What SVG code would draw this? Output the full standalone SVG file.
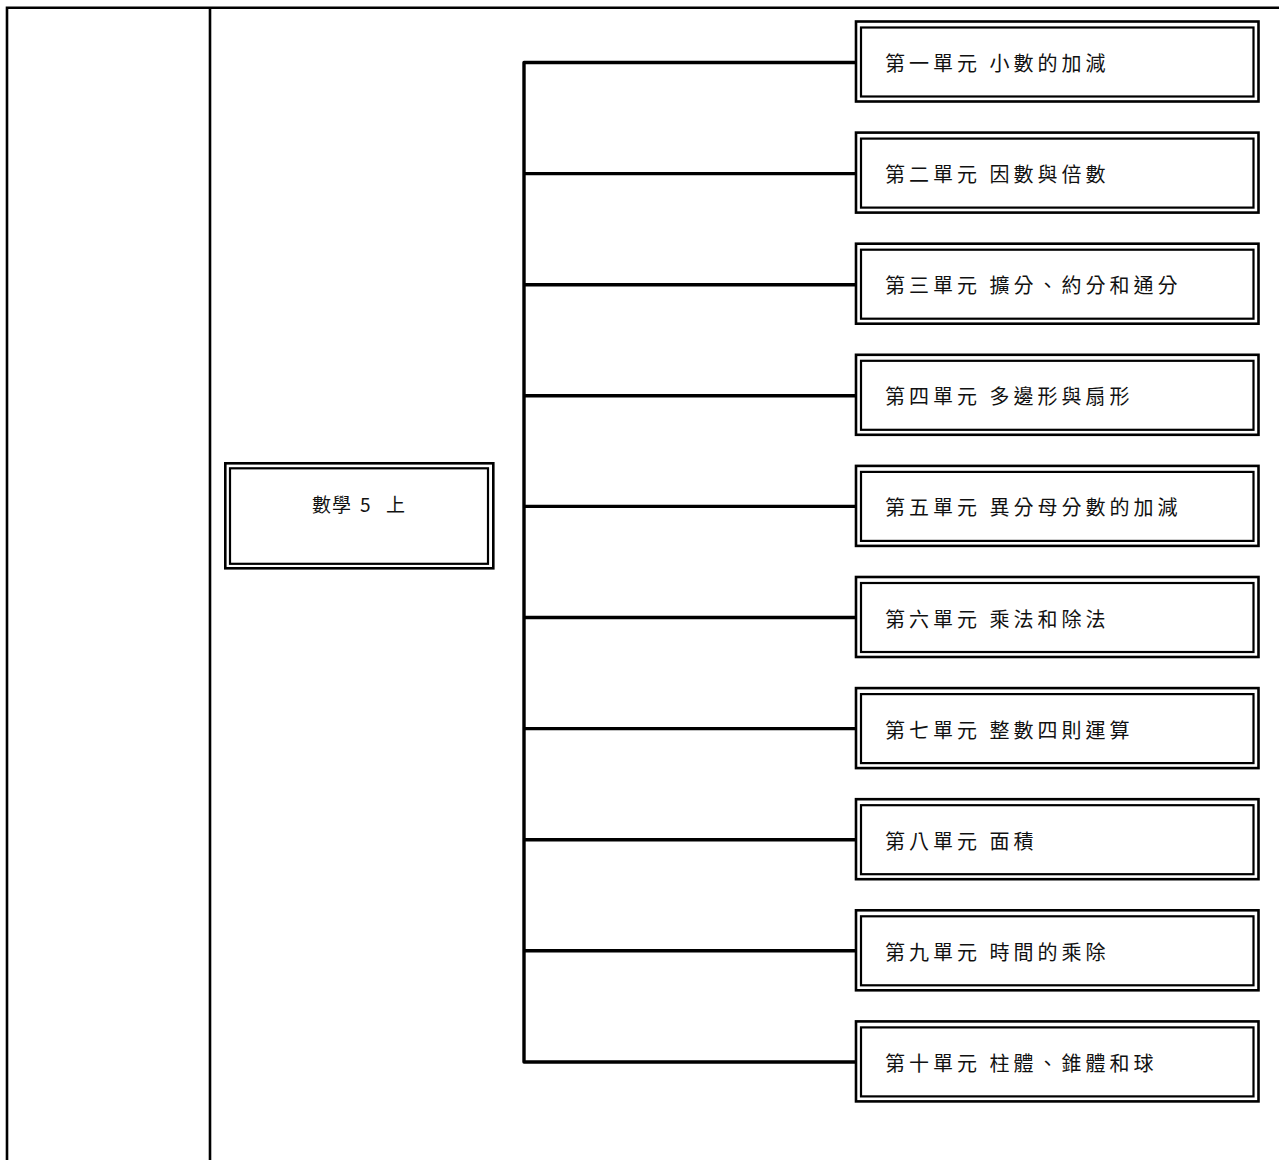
<svg xmlns="http://www.w3.org/2000/svg" width="1279" height="1160" viewBox="0 0 1279 1160">
<style>
.frame{fill:none;stroke:#000;stroke-width:2.6}
.out{fill:#fff;stroke:#000;stroke-width:2.6}
.in{fill:none;stroke:#000;stroke-width:2.2}
.conn{fill:none;stroke:#000;stroke-width:3.4;stroke-linejoin:round}
.t{font-family:"Noto Sans CJK TC","Noto Sans CJK SC",sans-serif;font-size:20px;letter-spacing:4px;fill:#111}
.m{font-family:"Noto Sans CJK TC","Noto Sans CJK SC",sans-serif;font-size:19px;fill:#111}
</style>
<rect width="1279" height="1160" fill="#fff"/>
<g id="table">
<path class="frame" d="M7,1160 V7.7 H1279 M210,7.7 V1160"/>
</g>
<g id="connectors">
<path class="conn" d="M855,62.5 H524 V1062 H855"/>
<path class="conn" d="M524,173.6 H855 M524,284.7 H855 M524,395.8 H855 M524,506.4 H855 M524,617.5 H855 M524,728.6 H855 M524,839.7 H855 M524,950.8 H855"/>
</g>
<g id="root">
<rect class="out" x="225.3" y="463.3" width="268" height="105"/>
<rect class="in" x="230" y="468.3" width="258" height="95.5"/>
<text class="m" x="312 332 352 360 375 386" y="512">數學 5 上</text>
</g>
<g id="u1"><rect class="out" x="856" y="21.5" width="402.5" height="80"/><rect class="in" x="861" y="27.5" width="392.5" height="69"/><text class="t" x="885" y="71">第一單元 小數的加減</text></g>
<g id="u2"><rect class="out" x="856" y="132.6" width="402.5" height="80"/><rect class="in" x="861" y="138.6" width="392.5" height="69"/><text class="t" x="885" y="182.1">第二單元 因數與倍數</text></g>
<g id="u3"><rect class="out" x="856" y="243.7" width="402.5" height="80"/><rect class="in" x="861" y="249.7" width="392.5" height="69"/><text class="t" x="885" y="293.2">第三單元 擴分、約分和通分</text></g>
<g id="u4"><rect class="out" x="856" y="354.8" width="402.5" height="80"/><rect class="in" x="861" y="360.8" width="392.5" height="69"/><text class="t" x="885" y="404.3">第四單元 多邊形與扇形</text></g>
<g id="u5"><rect class="out" x="856" y="465.9" width="402.5" height="80"/><rect class="in" x="861" y="471.9" width="392.5" height="69"/><text class="t" x="885" y="515.4">第五單元 異分母分數的加減</text></g>
<g id="u6"><rect class="out" x="856" y="577" width="402.5" height="80"/><rect class="in" x="861" y="583" width="392.5" height="69"/><text class="t" x="885" y="626.5">第六單元 乘法和除法</text></g>
<g id="u7"><rect class="out" x="856" y="688.1" width="402.5" height="80"/><rect class="in" x="861" y="694.1" width="392.5" height="69"/><text class="t" x="885" y="737.6">第七單元 整數四則運算</text></g>
<g id="u8"><rect class="out" x="856" y="799.2" width="402.5" height="80"/><rect class="in" x="861" y="805.2" width="392.5" height="69"/><text class="t" x="885" y="848.7">第八單元 面積</text></g>
<g id="u9"><rect class="out" x="856" y="910.3" width="402.5" height="80"/><rect class="in" x="861" y="916.3" width="392.5" height="69"/><text class="t" x="885" y="959.8">第九單元 時間的乘除</text></g>
<g id="u10"><rect class="out" x="856" y="1021.4" width="402.5" height="80"/><rect class="in" x="861" y="1027.4" width="392.5" height="69"/><text class="t" x="885" y="1070.9">第十單元 柱體、錐體和球</text></g>
</svg>
